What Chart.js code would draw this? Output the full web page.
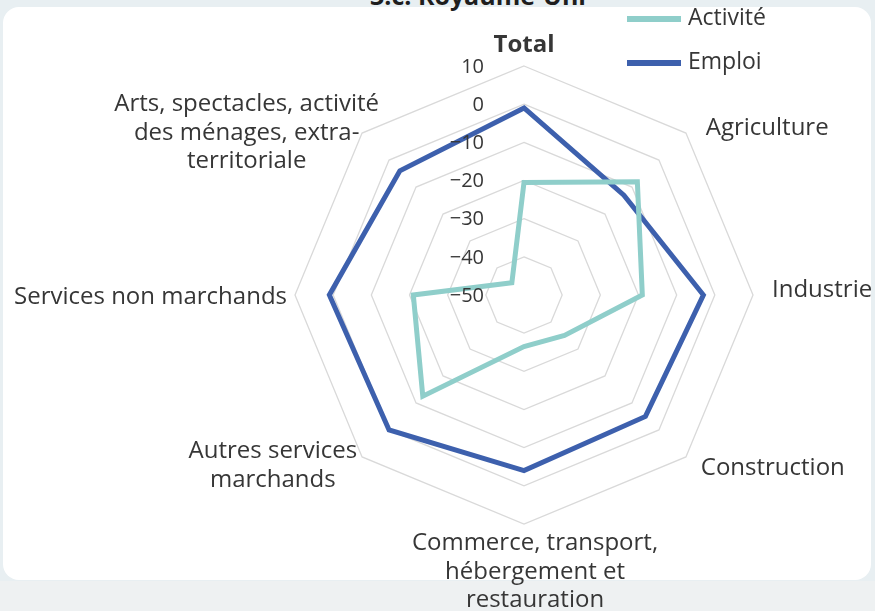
<!DOCTYPE html>
<html>
<head>
<meta charset="utf-8">
<script src="https://cdn.jsdelivr.net/npm/chart.js@4"></script>
<style>
html,body{margin:0;padding:0;width:875px;height:611px;overflow:hidden;background:#e8eff2;}
#panel{position:absolute;left:3px;top:7px;width:868px;height:573px;background:#ffffff;border-radius:16px;}
#bottom{position:absolute;left:0;top:581px;width:875px;height:30px;background:#eef1f2;}
#title{position:absolute;left:370px;top:-22px;white-space:nowrap;font:bold 25px "Open Sans";color:#1e1e1e;}
#wrap{position:absolute;left:0;top:0;width:875px;height:611px;}
</style>
</head>
<body>
<div id="panel"></div>
<div id="bottom"></div>
<div id="title">3.c. Royaume-Uni</div>
<div id="wrap"><canvas id="c"></canvas></div>
<script>
// ---- data ----
const categories = [
  ['Total'],
  ['Agriculture'],
  ['Industrie'],
  ['Construction'],
  ['Commerce, transport,', 'hébergement et', 'restauration'],
  ['Autres services', 'marchands'],
  ['Services non marchands'],
  ['Arts, spectacles, activité', 'des ménages, extra-', 'territoriale']
];
const seriesNames = ['Activité', 'Emploi'];
const activite = [-20.5, -8, -19, -35, -36.5, -12.5, -21, -45.5];
const emploi = [-1, -13, -3, -5, -4, 0, 1, -4];
const tickValues = [10, 0, -10, -20, -30, -40, -50];
const tickLabels = ['10', '0', '\u221210', '\u221220', '\u221230', '\u221240', '\u221250'];

const FONT = '"Open Sans"';
const TEXT = '#363636';

// label placement: distance beyond outer ring, alignment, shifts
const labelLayout = [
  {d: 21, align: 'center', dx: 0, dy: 0, bold: true},
  {d: 28, align: 'left', dx: 0, dy: 15},
  {d: 19, align: 'left', dx: 0, dy: -5},
  {d: 21, align: 'left', dx: 0, dy: -4},
  {d: 48, align: 'center', dx: 11, dy: 0},
  {d: 7, align: 'right', dx: 0, dy: 4},
  {d: 8, align: 'right', dx: 0, dy: 2},
  {d: 0, align: 'right', dx: 17, dy: 0}
];

const textPlugin = {
  id: 'textPlugin',
  afterDatasetsDraw(chart) {
    const ctx = chart.ctx;
    const s = chart.scales.r;
    ctx.save();
    ctx.fillStyle = TEXT;
    ctx.textBaseline = 'middle';
    // tick labels
    ctx.font = '20px ' + FONT;
    ctx.textAlign = 'right';
    tickValues.forEach((v, i) => {
      const p = s.getPointPositionForValue(0, v);
      ctx.fillText(tickLabels[i], s.xCenter - 40, p.y + 1);
    });
    // category labels
    const lh = 28.5;
    chart.data.labels.forEach((lines, i) => {
      const L = labelLayout[i];
      ctx.font = (L.bold ? 'bold ' : '') + '24px ' + FONT;
      const p = s.getPointPosition(i, s.drawingArea + L.d);
      let w = 0;
      lines.forEach(t => { w = Math.max(w, ctx.measureText(t).width); });
      let cx;
      if (L.align === 'left') cx = p.x + w / 2;
      else if (L.align === 'right') cx = p.x - w / 2;
      else cx = p.x;
      cx += L.dx;
      const cy = p.y + L.dy;
      ctx.textAlign = 'center';
      lines.forEach((t, k) => {
        ctx.fillText(t, cx, cy + (k - (lines.length - 1) / 2) * lh);
      });
    });
    // legend
    ctx.font = '23px ' + FONT;
    ctx.textAlign = 'left';
    const ly = [19, 63];
    chart.data.datasets.forEach((ds, i) => {
      ctx.strokeStyle = ds.borderColor;
      ctx.lineWidth = 6;
      ctx.beginPath();
      ctx.moveTo(627, ly[i]);
      ctx.lineTo(681, ly[i]);
      ctx.stroke();
      ctx.fillStyle = TEXT;
      ctx.fillText(ds.label, 688, ly[i] - 1);
    });
    ctx.restore();
  }
};

new Chart(document.getElementById('c'), {
  type: 'radar',
  data: {
    labels: categories,
    datasets: [
      {label: seriesNames[0], data: activite, borderColor: '#8fceca', backgroundColor: 'transparent',
       borderWidth: 5, pointRadius: 0, pointHoverRadius: 0, fill: false, tension: 0},
      {label: seriesNames[1], data: emploi, borderColor: '#3d60ad', backgroundColor: 'transparent',
       borderWidth: 5, pointRadius: 0, pointHoverRadius: 0, fill: false, tension: 0}
    ]
  },
  options: {
    responsive: true,
    maintainAspectRatio: false,
    animation: false,
    layout: {padding: {left: 295, right: 122, top: 66, bottom: 87}},
    plugins: {legend: {display: false}, tooltip: {enabled: false}, title: {display: false}},
    scales: {
      r: {
        min: -50, max: 10,
        ticks: {stepSize: 10, display: false},
        grid: {color: '#d9d9d9', lineWidth: 1.3, circular: false},
        angleLines: {display: false},
        pointLabels: {display: false}
      }
    }
  },
  plugins: [textPlugin]
});
</script>
</body>
</html>
